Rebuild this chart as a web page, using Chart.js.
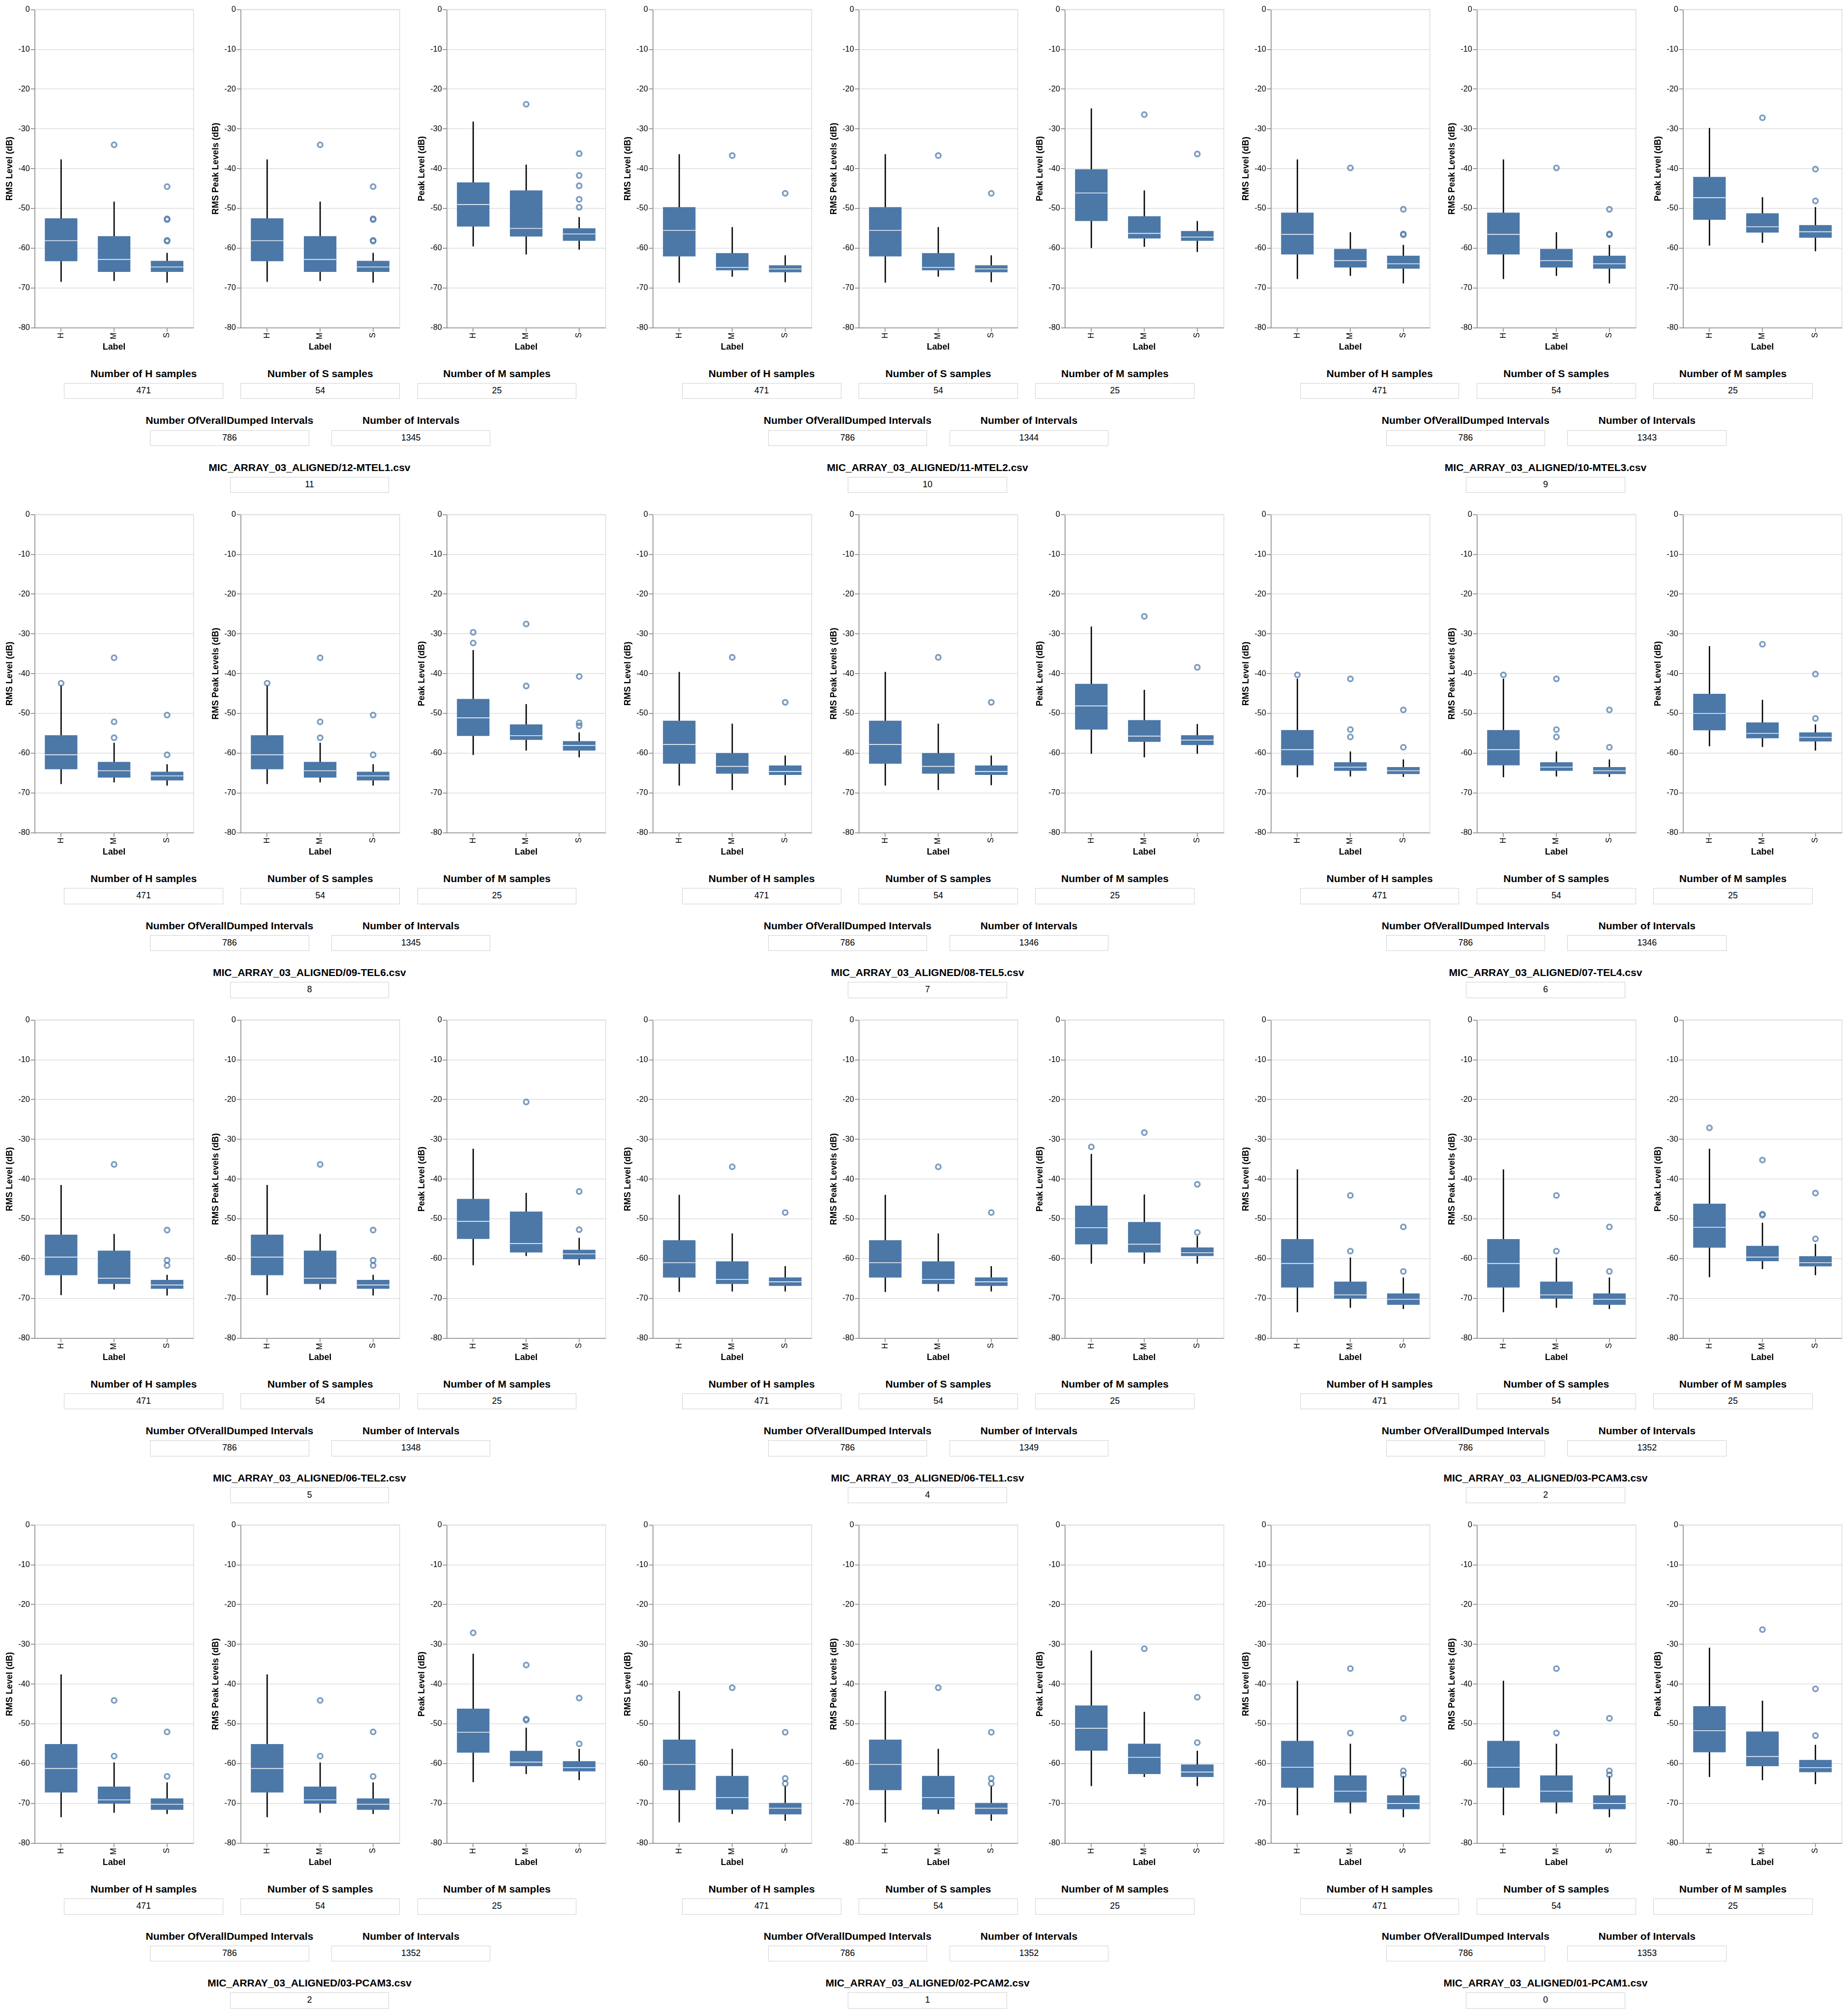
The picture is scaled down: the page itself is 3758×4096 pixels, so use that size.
<!DOCTYPE html>
<html><head><meta charset="utf-8">
<script src="https://cdn.jsdelivr.net/npm/chart.js@4.4.1/dist/chart.umd.min.js"></script>
<style>
html,body{margin:0;padding:0;background:#fff;}
#root{position:relative;width:3758px;height:4096px;overflow:hidden;font-family:"Liberation Sans",Arial,Helvetica,sans-serif;background:#fff;}
canvas{position:absolute;}
.lbl{position:absolute;text-align:center;font-weight:bold;color:#000;white-space:nowrap;}
.box{position:absolute;box-sizing:border-box;border:1.6px solid #d0d0d0;text-align:center;color:#000;white-space:nowrap;}
</style></head><body><div id="root"></div>
<script>
// ---------------- DATA ----------------
const categories = ['H', 'M', 'S'];
const subplotTitles = ['RMS Level (dB)', 'RMS Peak Levels (dB)', 'Peak Level (dB)'];
const groupTitles = [
  'MIC_ARRAY_03_ALIGNED/12-MTEL1.csv', 'MIC_ARRAY_03_ALIGNED/11-MTEL2.csv', 'MIC_ARRAY_03_ALIGNED/10-MTEL3.csv',
  'MIC_ARRAY_03_ALIGNED/09-TEL6.csv', 'MIC_ARRAY_03_ALIGNED/08-TEL5.csv', 'MIC_ARRAY_03_ALIGNED/07-TEL4.csv',
  'MIC_ARRAY_03_ALIGNED/06-TEL2.csv', 'MIC_ARRAY_03_ALIGNED/06-TEL1.csv', 'MIC_ARRAY_03_ALIGNED/03-PCAM3.csv',
  'MIC_ARRAY_03_ALIGNED/03-PCAM3.csv', 'MIC_ARRAY_03_ALIGNED/02-PCAM2.csv', 'MIC_ARRAY_03_ALIGNED/01-PCAM1.csv'
];
const groupIndex = ['11', '10', '9', '8', '7', '6', '5', '4', '2', '2', '1', '0'];
const hSamples = ['471','471','471','471','471','471','471','471','471','471','471','471'];
const sSamples = ['54','54','54','54','54','54','54','54','54','54','54','54'];
const mSamples = ['25','25','25','25','25','25','25','25','25','25','25','25'];
const dumpedIntervals = ['786','786','786','786','786','786','786','786','786','786','786','786'];
const intervalCounts = ['1345','1344','1343','1345','1346','1346','1348','1349','1352','1352','1352','1353'];

// RMS level box statistics per group: [H, M, S]
const rmsLow = [
  [-68.4,-68.2,-68.6],[-68.6,-67.1,-68.5],[-67.7,-66.9,-68.8],
  [-67.7,-67.3,-68.1],[-68.1,-69.2,-68.0],[-66.0,-65.8,-65.9],
  [-69.1,-67.7,-69.2],[-68.3,-68.2,-68.2],[-73.4,-72.3,-72.6],
  [-73.4,-72.3,-72.6],[-74.7,-72.6,-74.3],[-72.9,-72.5,-73.4]
];
const rmsQ1 = [
  [-63.2,-65.9,-65.9],[-62.0,-65.5,-66.0],[-61.5,-64.8,-65.1],
  [-64.0,-66.1,-66.8],[-62.6,-65.1,-65.4],[-63.0,-64.4,-65.2],
  [-64.1,-66.3,-67.5],[-64.7,-66.3,-66.8],[-67.2,-70.0,-71.55],
  [-67.2,-70.0,-71.55],[-66.6,-71.5,-72.7],[-66.0,-69.7,-71.4]
];
const rmsMedian = [
  [-58.1,-62.8,-64.7],[-55.5,-64.8,-65.2],[-56.5,-63.1,-63.9],
  [-60.4,-64.4,-65.7],[-57.8,-63.3,-64.6],[-59.1,-63.5,-64.4],
  [-59.6,-64.9,-66.6],[-61.0,-65.2,-65.8],[-61.2,-69.1,-70.2],
  [-61.2,-69.1,-70.2],[-60.2,-68.5,-71.2],[-60.9,-66.9,-70.0]
];
const rmsQ3 = [
  [-52.5,-57.0,-63.2],[-49.7,-61.25,-64.3],[-51.1,-60.2,-61.9],
  [-55.5,-62.2,-64.7],[-51.85,-60.0,-63.1],[-54.2,-62.3,-63.5],
  [-54.0,-58.0,-65.35],[-55.4,-60.7,-64.75],[-55.1,-65.8,-68.75],
  [-55.1,-65.8,-68.75],[-54.0,-63.1,-69.9],[-54.3,-63.0,-68.0]
];
const rmsHigh = [
  [-37.7,-48.3,-61.2],[-36.4,-54.7,-61.8],[-37.7,-56.0,-59.2],
  [-42.9,-57.4,-62.8],[-39.6,-52.6,-60.6],[-41.3,-59.6,-61.6],
  [-41.5,-53.8,-64.1],[-44.0,-53.7,-61.9],[-37.6,-59.75,-64.75],
  [-37.6,-59.75,-64.75],[-41.75,-56.3,-65.6],[-39.2,-55.0,-63.1]
];
const rmsOutliers = [
  [[],[-34.0],[-44.5,-52.6,-52.8,-58.0,-58.2]],
  [[],[-36.7],[-46.2]],
  [[],[-39.8],[-50.2,-56.4,-56.6]],
  [[-42.4],[-36.0,-52.1,-56.1],[-50.4,-60.4]],
  [[],[-35.9],[-47.2]],
  [[-40.3],[-41.3,-54.05,-55.9],[-49.1,-58.5]],
  [[],[-36.3],[-52.8,-60.4,-61.7]],
  [[],[-36.9],[-48.4]],
  [[],[-44.1,-58.1],[-52.0,-63.2]],
  [[],[-44.1,-58.1],[-52.0,-63.2]],
  [[],[-40.9],[-52.1,-63.7,-65.0]],
  [[],[-36.1,-52.3],[-48.6,-61.8,-62.8]]
];

// Peak level box statistics per group: [H, M, S]
const peakLow = [
  [-59.5,-61.5,-60.3],[-59.9,-59.6,-60.9],[-59.3,-58.6,-60.7],
  [-60.4,-59.3,-61.0],[-60.1,-61.0,-60.1],[-58.2,-58.4,-59.3],
  [-61.6,-59.3,-61.6],[-61.2,-61.2,-61.2],[-64.6,-62.55,-64.1],
  [-64.6,-62.55,-64.1],[-65.6,-63.3,-65.6],[-63.3,-64.1,-65.1]
];
const peakQ1 = [
  [-54.5,-57.0,-58.1],[-53.1,-57.5,-58.1],[-52.8,-56.0,-57.3],
  [-55.6,-56.6,-59.3],[-54.0,-57.1,-57.9],[-54.2,-56.2,-57.0],
  [-55.0,-58.4,-60.1],[-56.35,-58.4,-59.3],[-57.2,-60.6,-61.9],
  [-57.2,-60.6,-61.9],[-56.7,-62.55,-63.3],[-57.1,-60.6,-62.1]
];
const peakMedian = [
  [-49.0,-55.0,-56.4],[-46.1,-56.25,-57.2],[-47.3,-54.6,-55.85],
  [-51.1,-55.6,-58.05],[-48.1,-55.7,-56.7],[-50.0,-55.0,-56.0],
  [-50.6,-56.2,-58.8],[-52.2,-56.35,-58.5],[-52.1,-59.6,-61.0],
  [-52.1,-59.6,-61.0],[-51.1,-58.4,-62.1],[-51.7,-58.2,-61.0]
];
const peakQ3 = [
  [-43.5,-45.5,-55.0],[-40.2,-52.0,-55.7],[-42.1,-51.25,-54.2],
  [-46.4,-52.8,-57.0],[-42.6,-51.7,-55.5],[-45.1,-52.3,-54.8],
  [-45.0,-48.2,-57.8],[-46.7,-50.8,-57.2],[-46.2,-56.8,-59.4],
  [-46.2,-56.8,-59.4],[-45.4,-55.0,-60.25],[-45.6,-51.95,-59.1]
];
const peakHigh = [
  [-28.2,-39.0,-52.2],[-24.9,-45.5,-53.2],[-29.8,-47.2,-49.7],
  [-34.1,-47.7,-54.8],[-28.2,-44.1,-52.7],[-33.1,-46.6,-52.8],
  [-32.4,-43.5,-54.8],[-33.7,-43.9,-54.3],[-32.4,-51.0,-56.3],
  [-32.4,-51.0,-56.3],[-31.6,-47.0,-56.8],[-30.9,-44.2,-55.3]
];
const peakOutliers = [
  [[],[-23.8],[-36.2,-41.7,-44.3,-47.7,-49.7]],
  [[],[-26.4],[-36.3]],
  [[],[-27.2],[-40.1,-48.1]],
  [[-29.6,-32.3],[-27.5,-43.1],[-40.7,-52.35,-53.1]],
  [[],[-25.6],[-38.4]],
  [[],[-32.6],[-40.1,-51.25]],
  [[],[-20.6],[-43.1,-52.7]],
  [[-31.9],[-28.3],[-41.3,-53.4]],
  [[-27.1],[-35.2,-48.8,-49.05],[-43.5,-55.0]],
  [[-27.1],[-35.2,-48.8,-49.05],[-43.5,-55.0]],
  [[],[-31.1],[-43.3,-54.7]],
  [[],[-26.3],[-41.2,-52.95]]
];

// ---------------- LAYOUT / DRAW ----------------
const S = 0.809;
const FONT = '"Liberation Sans", Arial, Helvetica, sans-serif';
const root = document.getElementById('root');
const BOX_W = 81 * S;
const BLUE = '#4c78a8';

function makeChart(left, top, yTitle, st, outl) {
  const canvas = document.createElement('canvas');
  const W = Math.round((87 + 400 + 14) * S), H = Math.round((24 + 800 + 72) * S);
  canvas.width = W; canvas.height = H;
  canvas.style.left = left + 'px'; canvas.style.top = top + 'px';
  canvas.style.width = W + 'px'; canvas.style.height = H + 'px';
  root.appendChild(canvas);
  const pts = [];
  outl.forEach((arr, i) => arr.forEach(v => pts.push({x: categories[i], y: v})));
  const extras = {
    id: 'boxExtras' + Math.random().toString(36).slice(2),
    beforeDatasetsDraw(chart) {
      const {ctx, chartArea: a} = chart;
      ctx.save();
      ctx.strokeStyle = '#ddd'; ctx.lineWidth = 2 * S;
      ctx.beginPath(); ctx.moveTo(a.left, a.top); ctx.lineTo(a.right, a.top); ctx.lineTo(a.right, a.bottom); ctx.stroke();
      ctx.restore();
    },
    afterDatasetsDraw(chart) {
      const {ctx} = chart; const xs = chart.scales.x, ys = chart.scales.y;
      ctx.save();
      ctx.strokeStyle = 'rgba(255,255,255,0.9)'; ctx.lineWidth = 2 * S;
      st.median.forEach((m, i) => {
        const cx = xs.getPixelForValue(i), py = ys.getPixelForValue(m);
        ctx.beginPath(); ctx.moveTo(cx - BOX_W / 2, py); ctx.lineTo(cx + BOX_W / 2, py); ctx.stroke();
      });
      ctx.restore();
    }
  };
  new Chart(canvas, {
    type: 'bar',
    data: {
      labels: categories,
      datasets: [
        {type: 'bar', data: categories.map((c, i) => [st.low[i], st.high[i]]), backgroundColor: '#000',
         barThickness: 2, grouped: false, borderWidth: 0, borderSkipped: false, order: 3},
        {type: 'bar', data: categories.map((c, i) => [st.q1[i], st.q3[i]]), backgroundColor: BLUE,
         barThickness: BOX_W, grouped: false, borderWidth: 0, borderSkipped: false, order: 2},
        {type: 'line', data: pts, showLine: false, pointStyle: 'circle', pointRadius: 5, pointBorderWidth: 3.6,
         pointBorderColor: 'rgba(76,120,168,0.72)', pointBackgroundColor: 'rgba(0,0,0,0)', order: 1, clip: false}
      ]
    },
    options: {
      responsive: false, maintainAspectRatio: false, animation: false, events: [],
      layout: {padding: {top: 24 * S, right: 14 * S, left: 0, bottom: 0}},
      plugins: {legend: {display: false}, tooltip: {enabled: false}, title: {display: false}},
      scales: {
        x: {
          type: 'category', offset: true,
          grid: {display: true, drawOnChartArea: false, drawTicks: true, tickLength: 10 * S, tickColor: '#888', offset: false, lineWidth: 2 * S, color: '#888'},
          border: {display: true, color: '#888', width: 2 * S},
          ticks: {minRotation: 90, maxRotation: 90, padding: 2 * S, color: '#000', font: {family: FONT, size: 20 * S}},
          title: {display: true, text: 'Label', color: '#000', font: {family: FONT, size: 22 * S, weight: 'bold'}, padding: {top: 0, bottom: 8.7}},
          afterFit: s => { s.height = 72 * S; }
        },
        y: {
          min: -80, max: 0,
          ticks: {stepSize: 10, color: '#000', padding: 2 * S, font: {family: FONT, size: 20 * S}},
          grid: {color: '#ddd', lineWidth: 2 * S, tickColor: '#888', tickLength: 10 * S},
          border: {display: true, color: '#888', width: 2 * S},
          title: {display: true, text: yTitle, color: '#000', font: {family: FONT, size: 22 * S, weight: 'bold'}, padding: {top: 9.5, bottom: 0}},
          afterFit: s => { s.width = 87 * S; }
        }
      }
    },
    plugins: [extras]
  });
}

function addLabel(text, cx, cy, size) {
  const d = document.createElement('div');
  d.className = 'lbl';
  const w = 900;
  d.style.left = (cx * S - w / 2) + 'px';
  d.style.width = w + 'px';
  d.style.top = (cy * S - size * S * 0.6) + 'px';
  d.style.height = (size * S * 1.2) + 'px';
  d.style.lineHeight = (size * S * 1.2) + 'px';
  d.style.fontSize = (size * S) + 'px';
  d.textContent = text;
  root.appendChild(d);
}
function addBox(text, x, y) {
  const d = document.createElement('div');
  d.className = 'box';
  d.style.left = (x * S) + 'px';
  d.style.top = (y * S) + 'px';
  d.style.width = (400 * S) + 'px';
  d.style.height = (40 * S) + 'px';
  d.style.lineHeight = (40 * S - 3.2) + 'px';
  d.style.fontSize = (22 * S) + 'px';
  d.textContent = text;
  root.appendChild(d);
}

for (let g = 0; g < 12; g++) {
  const gi = g % 3, r = Math.floor(g / 3);
  const gx = gi * 1553.5, ry = r * 1270;
  const rms = {low: rmsLow[g], q1: rmsQ1[g], median: rmsMedian[g], q3: rmsQ3[g], high: rmsHigh[g]};
  const peak = {low: peakLow[g], q1: peakQ1[g], median: peakMedian[g], q3: peakQ3[g], high: peakHigh[g]};
  for (let k = 0; k < 3; k++) {
    const left = Math.round((gx + k * 518) * S);
    const top = Math.round(ry * S);
    if (k < 2) makeChart(left, top, subplotTitles[k], rms, rmsOutliers[g]);
    else makeChart(left, top, subplotTitles[k], peak, peakOutliers[g]);
  }
  // info widgets
  addLabel('Number of H samples', gx + 361, ry + 939, 26); addBox(hSamples[g], gx + 161, ry + 963);
  addLabel('Number of S samples', gx + 805, ry + 939, 26); addBox(sSamples[g], gx + 605, ry + 963);
  addLabel('Number of M samples', gx + 1249, ry + 939, 26); addBox(mSamples[g], gx + 1049, ry + 963);
  addLabel('Number OfVerallDumped Intervals', gx + 577, ry + 1057, 26); addBox(dumpedIntervals[g], gx + 377, ry + 1081);
  addLabel('Number of Intervals', gx + 1033, ry + 1057, 26); addBox(intervalCounts[g], gx + 833, ry + 1081);
  addLabel(groupTitles[g], gx + 778, ry + 1175, 26); addBox(groupIndex[g], gx + 578, ry + 1199);
}
</script>
</body></html>
